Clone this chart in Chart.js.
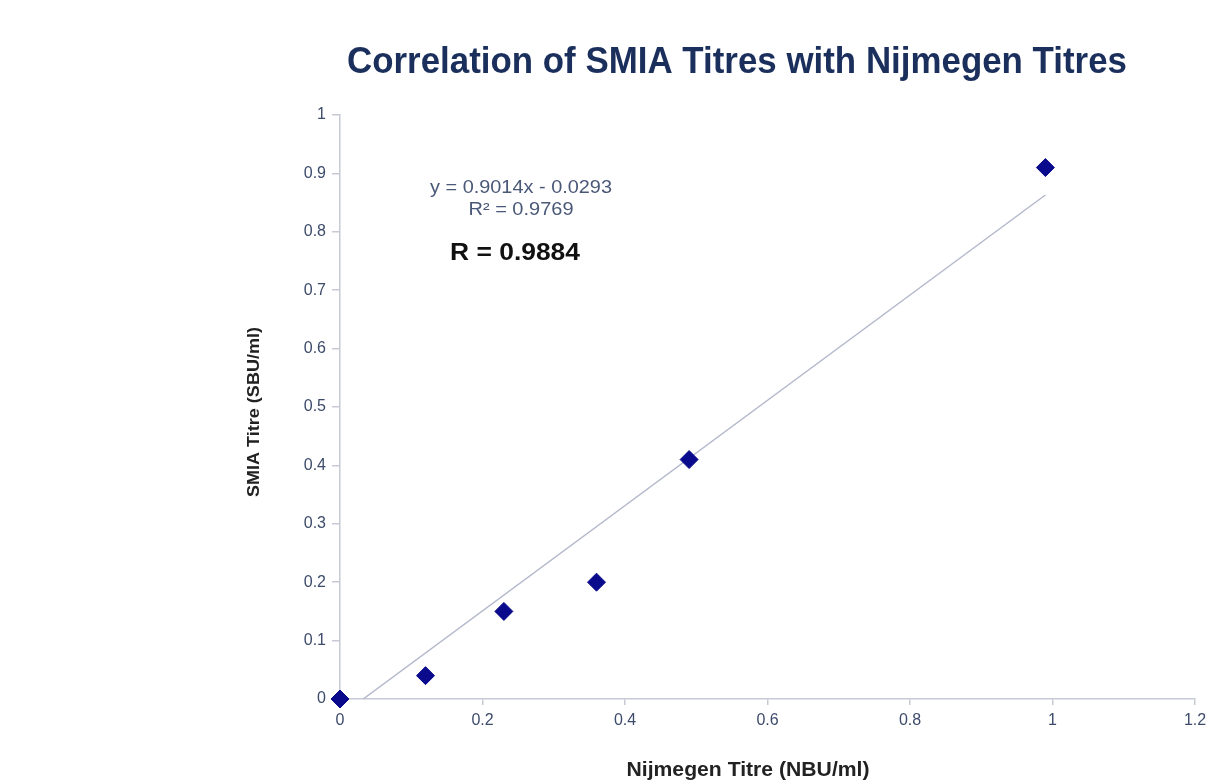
<!DOCTYPE html>
<html><head><meta charset="utf-8">
<script src="https://cdn.jsdelivr.net/npm/chart.js@4/dist/chart.umd.min.js"></script>
<style>html,body{margin:0;padding:0;background:#fff;}#wrap{width:1221px;height:784px;position:relative;}</style>
</head><body><div id="wrap"><canvas id="c" width="1221" height="784"></canvas></div>
<script>
const chartTitle = "Correlation of SMIA Titres with Nijmegen Titres";
const xAxisTitle = "Nijmegen Titre (NBU/ml)";
const yAxisTitle = "SMIA Titre (SBU/ml)";
const equationText = "y = 0.9014x - 0.0293";
const r2Text = "R² = 0.9769";
const rText = "R = 0.9884";
const nbuValues = [0, 0.12, 0.23, 0.36, 0.49, 0.99];
const sbuValues = [0, 0.04, 0.15, 0.20, 0.41, 0.91];
const trendX = [0.0325, 0.99];
const trendY = [0, 0.863];
const xTickLabels = ["0", "0.2", "0.4", "0.6", "0.8", "1", "1.2"];
const yTickLabels = ["0", "0.1", "0.2", "0.3", "0.4", "0.5", "0.6", "0.7", "0.8", "0.9", "1"];

const FONT = '"Liberation Sans", Arial, sans-serif';
function fitText(ctx, text, cx, cy, font, targetW, rot) {
  ctx.save();
  ctx.font = font;
  const w = ctx.measureText(text).width;
  ctx.translate(cx, cy);
  if (rot) ctx.rotate(rot);
  ctx.scale(targetW / w, 1);
  ctx.fillText(text, 0, 0);
  ctx.restore();
}

const textPlugin = {
  id: 'texts',
  afterDraw(chart) {
    const ctx = chart.ctx;
    ctx.save();
    ctx.textAlign = 'center'; ctx.textBaseline = 'middle';
    ctx.fillStyle = '#1b2f5c';
    fitText(ctx, chartTitle, 737, 63, 'bold 36px ' + FONT, 780);
    ctx.fillStyle = '#222';
    fitText(ctx, xAxisTitle, 748, 770, 'bold 20px ' + FONT, 243);
    fitText(ctx, yAxisTitle, 254, 412, 'bold 17px ' + FONT, 170, -Math.PI / 2);
    ctx.fillStyle = '#4a5878';
    fitText(ctx, equationText, 521, 188, '18px ' + FONT, 182);
    fitText(ctx, r2Text, 521, 210, '18px ' + FONT, 105);
    ctx.fillStyle = '#111';
    fitText(ctx, rText, 515, 253, 'bold 24px ' + FONT, 130);
    ctx.restore();
  }
};

const axisColor = '#c6cad4';
const tickColor = '#3d4b6b';
new Chart(document.getElementById('c'), {
  type: 'scatter',
  data: {
    datasets: [
      {
        type: 'line',
        data: trendX.map((x, i) => ({x, y: trendY[i]})),
        borderColor: '#b4b8cb',
        borderWidth: 1.5,
        pointRadius: 0,
        fill: false,
        order: 2
      },
      {
        data: nbuValues.map((x, i) => ({x, y: sbuValues[i]})),
        pointStyle: 'rectRot',
        pointRadius: 9,
        pointHoverRadius: 9,
        backgroundColor: '#0a0a8c',
        borderColor: '#0a0a8c',
        borderWidth: 1,
        clip: false,
        order: 1
      }
    ]
  },
  options: {
    responsive: false,
    animation: false,
    events: [],
    layout: { padding: { top: 115, right: 26, left: 0, bottom: 0 } },
    plugins: { legend: { display: false }, tooltip: { enabled: false }, title: { display: false } },
    scales: {
      x: {
        type: 'linear', min: 0, max: 1.2,
        ticks: { stepSize: 0.2, color: tickColor, font: { family: FONT, size: 16 }, padding: 6, maxRotation: 0,
          callback: (v, i) => xTickLabels[i] },
        grid: { display: true, drawOnChartArea: false, tickLength: 6, color: axisColor, lineWidth: 1.5 },
        border: { color: axisColor, width: 1.5 },
        afterFit(s) { s.height = 784 - 699; }
      },
      y: {
        type: 'linear', min: 0, max: 1,
        ticks: { stepSize: 0.1, color: tickColor, font: { family: FONT, size: 16 }, padding: 6,
          callback: (v, i) => yTickLabels[i] },
        grid: { display: true, drawOnChartArea: false, tickLength: 8, color: axisColor, lineWidth: 1.5 },
        border: { color: axisColor, width: 1.5 },
        afterFit(s) { s.width = 340; }
      }
    }
  },
  plugins: [textPlugin]
});
</script></body></html>
